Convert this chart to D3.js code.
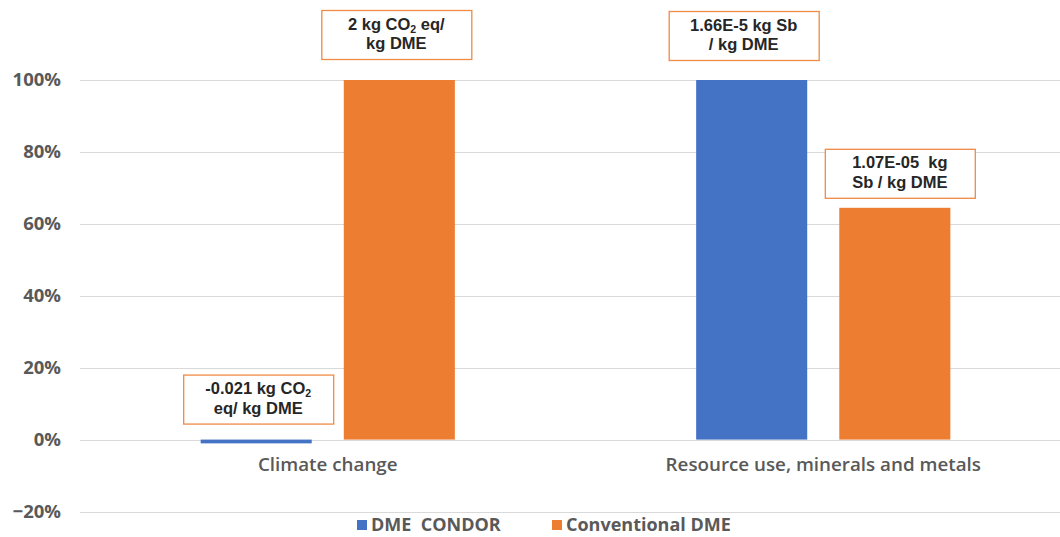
<!DOCTYPE html>
<html>
<head>
<meta charset="utf-8">
<script src="https://cdn.jsdelivr.net/npm/d3@7"></script>
<style>
  html, body { margin: 0; padding: 0; background: #fff; }
  svg { display: block; font-family: "Open Sans", "Lato", sans-serif; }
</style>
</head>
<body>
<svg id="chart" width="1060" height="537"></svg>
<script>
// Impact categories and the two DME production routes
const categories = ["Climate change", "Resource use, minerals and metals"];
const seriesNames = ["DME  CONDOR", "Conventional DME"];
const seriesColors = ["#4472C4", "#ED7D31"];

// Absolute impact per kg DME (kg CO2 eq for climate, kg Sb for resources)
const condorAbs = [-0.021, 1.66e-5];
const conventionalAbs = [2, 1.07e-5];

// Box captions: arrays of lines, each line a list of [text, isSubscript] runs
const condorCaptions = [
  [[["-0.021 kg CO", false], ["2", true]], [["eq/ kg DME", false]]],
  [[["1.66E-5 kg Sb", false]], [["/ kg DME", false]]]
];
const conventionalCaptions = [
  [[["2 kg CO", false], ["2", true], [" eq/", false]], [["kg DME", false]]],
  [[["1.07E-05  kg", false]], [["Sb / kg DME", false]]]
];
// Caption placement nudges [dx, gap above bar]
const condorNudges = [[2, 16], [-8, 20]];
const conventionalNudges = [[-3, 21], [5, 10]];

const yTicks = [-0.2, 0, 0.2, 0.4, 0.6, 0.8, 1.0];

// Share of the larger route's impact within each category
const maxAbs = categories.map((c, i) => Math.max(Math.abs(condorAbs[i]), Math.abs(conventionalAbs[i])));
const condorPct = condorAbs.map((v, i) => v / maxAbs[i]);
const conventionalPct = conventionalAbs.map((v, i) => v / maxAbs[i]);

const rows = categories.map((c, i) => ({
  category: c,
  values: [
    { s: 0, v: condorPct[i], caption: condorCaptions[i], nudge: condorNudges[i] },
    { s: 1, v: conventionalPct[i], caption: conventionalCaptions[i], nudge: conventionalNudges[i] }
  ]
}));

const svg = d3.select("#chart");
const plotLeft = 80, plotRight = 1071, plotTop = 80, plotBottom = 511.5;

const y = d3.scaleLinear().domain([-0.2, 1.0]).range([plotBottom, plotTop]);
const x0 = d3.scaleBand().domain(categories).range([plotLeft, plotRight]).paddingInner(0.487).paddingOuter(0.2435);
const x1 = d3.scaleBand().domain([0, 1]).range([0, x0.bandwidth()]).paddingInner(0.224);

// Gridlines
svg.append("g")
  .selectAll("line")
  .data(yTicks)
  .join("line")
  .attr("x1", plotLeft).attr("x2", 1060)
  .attr("y1", d => Math.round(y(d)) + 0.5).attr("y2", d => Math.round(y(d)) + 0.5)
  .attr("stroke", "#d9d9d9").attr("stroke-width", 1);

// Y axis labels
const yAxis = d3.axisLeft(y).tickValues(yTicks).tickFormat(d3.format(".0%")).tickSize(0).tickPadding(0);
const yg = svg.append("g").attr("transform", `translate(61,0)`).call(yAxis);
yg.select(".domain").remove();
yg.selectAll("text")
  .attr("fill", "#595959").attr("font-size", 18.5).attr("font-weight", "bold")
  .attr("font-family", "'Open Sans', sans-serif");

// Bars
const groups = svg.append("g").selectAll("g")
  .data(rows)
  .join("g")
  .attr("transform", d => `translate(${x0(d.category)},0)`);

groups.selectAll("rect")
  .data(d => d.values)
  .join("rect")
  .attr("x", d => x1(d.s))
  .attr("width", x1.bandwidth())
  .attr("y", d => y(Math.max(0, d.v)))
  .attr("height", d => Math.abs(y(d.v) - y(0)))
  .attr("fill", d => seriesColors[d.s]);

// Caption boxes above each bar
const boxW = 150, boxH = 49;
const cap = groups.selectAll("g.cap")
  .data(d => d.values)
  .join("g")
  .attr("class", "cap")
  .attr("transform", d => {
    const cx = x1(d.s) + x1.bandwidth() / 2 + d.nudge[0];
    const by = y(Math.max(0, d.v)) - d.nudge[1] - boxH;
    return `translate(${cx},${by})`;
  });

cap.append("rect")
  .attr("x", -boxW / 2 + 0.5).attr("y", 0.5)
  .attr("width", boxW).attr("height", boxH)
  .attr("fill", "#fff").attr("stroke", "#F08A45").attr("stroke-width", 1.3);

// Each caption is one text element with a line of tspans per row
cap.each(function(d) {
  const t = d3.select(this).append("text")
    .attr("text-anchor", "middle")
    .attr("font-family", "'Liberation Sans', Arial, sans-serif")
    .attr("font-size", 16.5).attr("font-weight", "bold")
    .attr("fill", "#262626")
    .attr("xml:space", "preserve")
    .style("white-space", "pre");
  d.caption.forEach((line, li) => {
    line.forEach(([txt, sub], ri) => {
      const ts = t.append("tspan").text(txt);
      if (ri === 0) ts.attr("x", 0).attr("y", 19.5 + li * 19.5);
      else if (sub) ts.attr("font-size", 10.5).attr("dy", 3);
      else ts.attr("dy", -3);
    });
  });
});

// Category labels
svg.append("g").selectAll("text")
  .data(categories)
  .join("text")
  .attr("x", d => x0(d) + x0.bandwidth() / 2)
  .attr("y", 471)
  .attr("text-anchor", "middle")
  .attr("font-size", 18.8).attr("font-weight", "600")
  .attr("fill", "#595959")
  .text(d => d);

// Legend
const legendX = [357, 552];
const lg = svg.append("g").selectAll("g")
  .data(seriesNames)
  .join("g")
  .attr("transform", (d, i) => `translate(${legendX[i]},520)`);
lg.append("rect").attr("width", 10).attr("height", 10).attr("fill", (d, i) => seriesColors[i]);
lg.append("text")
  .attr("x", 14).attr("y", 10.5)
  .attr("font-size", 18).attr("font-weight", "bold")
  .attr("fill", "#595959")
  .attr("xml:space", "preserve")
  .style("white-space", "pre")
  .text(d => d);
</script>
</body>
</html>
